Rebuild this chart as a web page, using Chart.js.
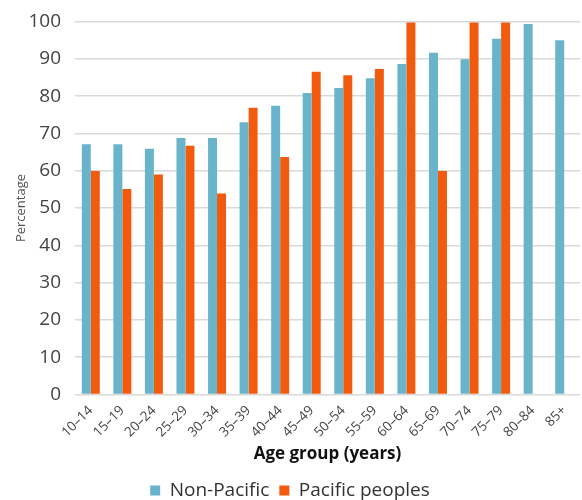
<!DOCTYPE html>
<html>
<head>
<meta charset="utf-8">
<script src="https://cdn.jsdelivr.net/npm/chart.js@4/dist/chart.umd.min.js"></script>
<style>
html,body{margin:0;padding:0;background:#fff;}
#wrap{width:582px;height:500px;position:relative;}
</style>
</head>
<body>
<div id="wrap"><canvas id="c" width="582" height="500"></canvas></div>
<script>
const categories = ["10\u201314","15\u201319","20\u201324","25\u201329","30\u201334","35\u201339","40\u201344","45\u201349","50\u201354","55\u201359","60\u201364","65\u201369","70\u201374","75\u201379","80\u201384","85+"];
const nonPacific = [67.1,67.1,65.9,68.8,68.8,73.0,77.4,80.8,82.2,84.8,88.6,91.6,89.9,95.4,99.3,95.0];
const pacificPeoples = [59.9,55.1,59.0,66.7,53.9,76.9,63.7,86.5,85.6,87.3,99.7,59.9,99.7,99.7,null,null];
const yTicks = [0,10,20,30,40,50,60,70,80,90,100];

const font = "'Open Sans', 'Noto Sans', sans-serif";
new Chart(document.getElementById('c'), {
  type: 'bar',
  data: {
    labels: categories,
    datasets: [
      {label: 'Non-Pacific', data: nonPacific, backgroundColor: '#6ab4cb', borderWidth: 0},
      {label: 'Pacific peoples', data: pacificPeoples, backgroundColor: '#f25b0e', borderWidth: 0}
    ]
  },
  options: {
    responsive: false,
    animation: false,
    devicePixelRatio: 1,
    layout: {padding: {left: 0, right: 2, top: 0, bottom: -10}},
    datasets: {bar: {categoryPercentage: 0.57, barPercentage: 1.0}},
    plugins: {
      tooltip: {enabled: false},
      legend: {
        position: 'bottom',
        labels: {
          font: {family: font, size: 19},
          color: '#333',
          boxWidth: 10,
          boxHeight: 10,
          padding: 10
        }
      }
    },
    scales: {
      x: {
        grid: {display: false},
        border: {display: false},
        ticks: {
          font: {family: font, size: 13.5},
          color: '#444',
          maxRotation: 45,
          minRotation: 45,
          padding: 0,
          autoSkip: false
        },
        title: {
          display: true,
          text: 'Age group (years)',
          font: {family: font, size: 17, weight: 'bold'},
          color: '#111',
          padding: {top: 3, bottom: 7}
        }
      },
      y: {
        min: 0,
        max: 100,
        afterBuildTicks: (axis) => { axis.ticks = yTicks.map(v => ({value: v})); },
        afterFit: (scale) => { scale.width = 75; scale.paddingTop = 21.5; scale.paddingBottom = 0; },
        grid: {color: '#d9d9d9', lineWidth: 1.5, drawTicks: false},
        border: {display: false},
        ticks: {
          font: {family: font, size: 19},
          color: '#444',
          padding: 14
        },
        title: {
          display: true,
          text: 'Percentage',
          font: {family: font, size: 13},
          color: '#555',
          padding: {top: 13, bottom: 0}
        }
      }
    }
  }
});
</script>
</body>
</html>
